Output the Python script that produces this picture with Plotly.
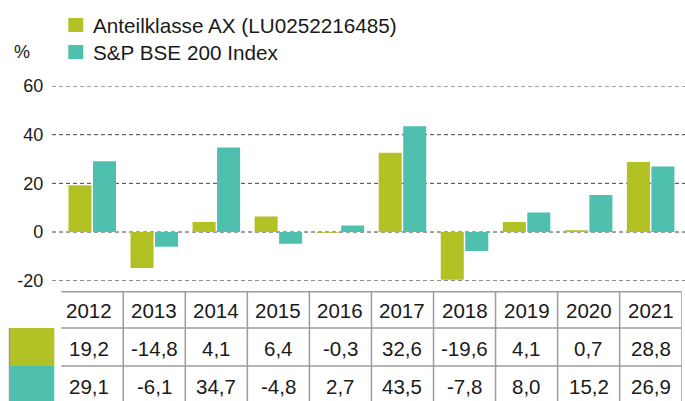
import plotly.graph_objects as go

years = ["2012", "2013", "2014", "2015", "2016", "2017", "2018", "2019", "2020", "2021"]
fund = [19.2, -14.8, 4.1, 6.4, -0.3, 32.6, -19.6, 4.1, 0.7, 28.8]
index = [29.1, -6.1, 34.7, -4.8, 2.7, 43.5, -7.8, 8.0, 15.2, 26.9]
series_names = ["Anteilklasse AX (LU0252216485)", "S&P BSE 200 Index"]
series_colors = ["#b2c224", "#4fbfae"]
y_ticks = [-20, 0, 20, 40, 60]
y_unit = "%"

W, H = 685, 401
FONT = "Liberation Sans, Arial, sans-serif"
TXT = "#1a1a1a"
BORDER = "#9c9c9c"
TABLE_SIZE = 20.5
LEGEND_SIZE = 20.7
TICK_SIZE = 18


def px(x):
    return x / W


def py(y):
    return (H - y) / H


# layout geometry (pixels)
x_left, x_right = 61.2, 681.7
y_top, y_bot = 86.0, 280.7
n = len(years)
band = (x_right - x_left) / n


def data_x(p):
    return (p - x_left) / band - 0.5


table_left = data_x(54.3)
row_lines = [291.7, 328.0, 366.0, 405.0]

fig = go.Figure()
for vals, name, col in zip([fund, index], series_names, series_colors):
    fig.add_trace(go.Bar(x=years, y=vals, name=name, marker=dict(color=col, line=dict(width=0)),
                         showlegend=False, hoverinfo="skip"))

shapes = []
annotations = []

# dashed gridlines
for t in y_ticks:
    shapes.append(dict(type="line", xref="paper", yref="y", x0=px(52), x1=1, y0=t, y1=t,
                       line=dict(color="#444444", width=1, dash="4px,3px"), layer="below"))

# y axis line
shapes.append(dict(type="line", xref="x", yref="paper", x0=table_left, x1=table_left,
                   y0=py(y_top), y1=py(row_lines[0]), line=dict(color="#b0b0b0", width=1.5)))

# table: swatch cells
for i, col in enumerate(series_colors):
    shapes.append(dict(type="rect", xref="paper", yref="paper", x0=px(9.5), x1=px(54.3),
                       y0=py(row_lines[i + 1]), y1=py(row_lines[i + 2]),
                       fillcolor=col, line=dict(width=0), layer="below"))

# horizontal table lines
shapes.append(dict(type="line", xref="x", yref="paper", x0=table_left, x1=n - 0.5,
                   y0=py(row_lines[0]), y1=py(row_lines[0]), line=dict(color=BORDER, width=1.5)))
for yl in row_lines[1:]:
    shapes.append(dict(type="line", xref="x", yref="paper", x0=data_x(9.5), x1=n - 0.5,
                       y0=py(yl), y1=py(yl), line=dict(color=BORDER, width=1.5)))
# vertical table lines
shapes.append(dict(type="line", xref="paper", yref="paper", x0=px(9.5), x1=px(9.5),
                   y0=py(row_lines[1]), y1=py(row_lines[3]), line=dict(color=BORDER, width=1.5)))
for xv in [table_left] + [k + 0.5 for k in range(n)]:
    shapes.append(dict(type="line", xref="x", yref="paper", x0=xv, x1=xv,
                       y0=py(row_lines[0]), y1=py(row_lines[3]), line=dict(color=BORDER, width=1.5)))


def fmt(v):
    return f"{v:.1f}".replace(".", ",")


centers = [(table_left + 0.5) / 2] + list(range(1, n))
row_text_y = [310.0, 348.0, 386.0]
for k in range(n):
    annotations.append(dict(x=centers[k], y=py(row_text_y[0]), xref="x", yref="paper",
                            text=years[k], showarrow=False, xanchor="center", yanchor="middle",
                            font=dict(size=TABLE_SIZE, color=TXT, family=FONT)))
    for r, vals in enumerate([fund, index]):
        annotations.append(dict(x=centers[k], y=py(row_text_y[r + 1]), xref="x", yref="paper",
                                text=fmt(vals[k]), showarrow=False, xanchor="center", yanchor="middle",
                                font=dict(size=TABLE_SIZE, color=TXT, family=FONT)))

# legend
leg_y = [25.0, 52.0]
for name, col, ly in zip(series_names, series_colors, leg_y):
    shapes.append(dict(type="rect", xref="paper", yref="paper", x0=px(68.3), x1=px(83.3),
                       y0=py(ly + 7), y1=py(ly - 7), fillcolor=col, line=dict(width=0)))
    annotations.append(dict(x=px(91), y=py(ly), xref="paper", yref="paper", text=name,
                            showarrow=False, xanchor="left", yanchor="middle",
                            font=dict(size=LEGEND_SIZE, color=TXT, family=FONT)))

# unit label
annotations.append(dict(x=px(12), y=py(52), xref="paper", yref="paper", text=y_unit,
                        showarrow=False, xanchor="left", yanchor="middle",
                        font=dict(size=TICK_SIZE, color=TXT, family=FONT)))

fig.update_layout(
    template="none",
    width=W, height=H,
    margin=dict(l=0, r=0, t=0, b=0, pad=0, autoexpand=False),
    paper_bgcolor="white", plot_bgcolor="white",
    barmode="group", bargap=0.21, bargroupgap=0.06,
    showlegend=False,
    hovermode=False,
    xaxis=dict(type="category", domain=[px(x_left), px(x_right)], range=[-0.5, n - 0.5],
               showticklabels=False, showgrid=False, zeroline=False, showline=False, ticks="",
               automargin=False, fixedrange=True),
    yaxis=dict(domain=[py(y_bot), py(y_top)], range=[-20, 60], tickvals=y_ticks,
               ticktext=[str(t) for t in y_ticks], showgrid=False, zeroline=False, showline=False,
               ticks="", automargin=False, ticklabelstandoff=17, fixedrange=True,
               tickfont=dict(size=TICK_SIZE, color=TXT, family=FONT)),
    shapes=shapes,
    annotations=annotations,
    font=dict(family=FONT, color=TXT),
)

fig.write_html("out.html", config={"displayModeBar": False, "staticPlot": True},
               post_script="document.body.style.margin='0px';document.body.style.padding='0px';")
